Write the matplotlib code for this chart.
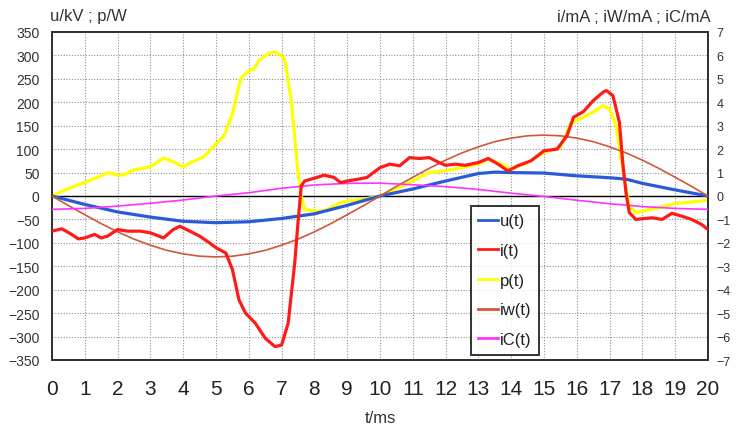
import matplotlib
matplotlib.use("Agg")
import matplotlib.pyplot as plt
from matplotlib.lines import Line2D

plt.rcParams['font.family'] = ['Liberation Sans Narrow', 'Liberation Sans', 'DejaVu Sans']

# ---------------- data ----------------
t_u = [0, 1, 2, 3, 4, 5, 6, 7, 8, 9, 10, 11, 12, 13, 13.5, 14, 15, 16, 17, 17.5, 18, 19, 20]
u = [0, -18, -34, -45, -54, -57, -55, -48, -38, -20, 0, 15, 32, 48, 51, 50, 49, 43, 39, 36, 27, 13, 0]

t_i = [0, 0.3, 0.6, 0.8, 1, 1.3, 1.5, 1.7, 2, 2.3, 2.7, 3, 3.4, 3.7, 3.9, 4.2, 4.5, 4.8, 5, 5.3,
       5.5, 5.7, 5.9, 6.2, 6.5, 6.8, 7.0, 7.2, 7.4, 7.5, 7.6, 7.7, 8, 8.3, 8.6, 8.8, 9, 9.3, 9.6,
       10, 10.3, 10.6, 10.9, 11.2, 11.5, 11.8, 12, 12.3, 12.6, 13, 13.3, 13.6, 13.9, 14.2, 14.6,
       15, 15.4, 15.7, 15.9, 16.2, 16.5, 16.8, 16.9, 17.1, 17.3, 17.4, 17.5, 17.6, 17.8, 18, 18.3,
       18.6, 18.9, 19.2, 19.5, 19.8, 20]
i_mA = [-1.5, -1.4, -1.64, -1.83, -1.79, -1.64, -1.79, -1.71, -1.43, -1.5, -1.5, -1.57, -1.79,
        -1.43, -1.29, -1.5, -1.71, -2.0, -2.21, -2.43, -3.14, -4.43, -5.0, -5.43, -6.07, -6.43,
        -6.36, -5.43, -2.86, -1.14, 0.43, 0.64, 0.76, 0.89, 0.79, 0.57, 0.64, 0.71, 0.79, 1.21,
        1.36, 1.29, 1.64, 1.6, 1.64, 1.43, 1.31, 1.36, 1.31, 1.43, 1.6, 1.36, 1.07, 1.29, 1.5,
        1.93, 2.0, 2.57, 3.36, 3.6, 4.07, 4.43, 4.5, 4.29, 3.14, 1.43, 0.14, -0.71, -1.0, -0.97,
        -0.93, -1.0, -0.74, -0.86, -1.0, -1.21, -1.43]

t_p = [0, 0.5, 1, 1.5, 1.7, 2, 2.2, 2.5, 3, 3.4, 3.7, 4, 4.3, 4.6, 5, 5.25, 5.5, 5.75, 6, 6.15,
       6.3, 6.6, 6.8, 7, 7.1, 7.3, 7.5, 7.6, 7.7, 8, 8.3, 8.6, 8.8, 9, 9.5, 10, 10.5, 11, 11.5,
       12, 12.5, 13, 13.3, 13.6, 14, 14.5, 15, 15.5, 15.8, 16, 16.5, 16.8, 17, 17.2, 17.4, 17.6,
       17.8, 18, 18.5, 19, 19.5, 20]
p = [0, 16, 29, 43, 50, 45, 45, 56, 62, 81, 73, 62, 74, 82, 111, 129, 175, 250, 268, 270, 289,
     304, 307, 300, 289, 200, 50, 0, -29, -32, -32, -21, -14, -11, -7, 0, 16, 32, 50, 54, 61, 68,
     79, 71, 57, 71, 93, 104, 154, 161, 179, 193, 186, 150, 57, -21, -36, -32, -25, -16, -13, -9]

t_w = [0, 0.5, 1, 1.5, 2, 2.5, 3, 3.5, 4, 4.5, 5, 5.5, 6, 6.5, 7, 7.5, 8, 8.5, 9, 9.5, 10,
       10.5, 11, 11.5, 12, 12.5, 13, 13.5, 14, 14.5, 15, 15.5, 16, 16.5, 17, 17.5, 18, 18.5, 19,
       19.5, 20]
iw = [0, -0.41, -0.80, -1.18, -1.53, -1.84, -2.10, -2.32, -2.47, -2.57, -2.60, -2.57, -2.47,
      -2.32, -2.10, -1.84, -1.53, -1.18, -0.80, -0.41, 0, 0.41, 0.80, 1.18, 1.53, 1.84, 2.10,
      2.32, 2.47, 2.57, 2.60, 2.57, 2.47, 2.32, 2.10, 1.84, 1.53, 1.18, 0.80, 0.41, 0]

t_c = [0, 1, 2, 3, 4, 5, 6, 7, 8, 9, 10, 11, 12, 13, 14, 15, 16, 17, 18, 19, 20]
ic = [-0.57, -0.53, -0.43, -0.31, -0.17, 0, 0.14, 0.33, 0.47, 0.54, 0.55, 0.48, 0.40, 0.28,
      0.12, -0.02, -0.18, -0.33, -0.45, -0.53, -0.57]

x_ticks = list(range(0, 21))
left_ticks = list(range(-350, 351, 50))
right_ticks = list(range(-7, 8))

labels = ['u(t)', 'i(t)', 'p(t)', 'iw(t)', 'iC(t)']
colors = ['#2a5bd7', '#ff1a1a', '#ffff00', '#d0573a', '#ff33ff']

# ---------------- figure ----------------
fig = plt.figure(figsize=(7.36, 4.31), dpi=100)
ax = fig.add_axes([52 / 736, 1 - 361 / 431, 656 / 736, 328 / 431])
ax2 = ax.twinx()

ax.set_xlim(0, 20)
ax.set_ylim(-350, 350)
ax2.set_ylim(-7, 7)

ax.set_xticks(x_ticks)
ax.set_yticks(left_ticks)
ax2.set_yticks(right_ticks)

grid_kw = dict(color='#909090', linestyle=(0, (1, 1.5)), linewidth=0.8)
ax.grid(True, **grid_kw)
ax.set_axisbelow(True)
ax.axhline(0, color='black', linewidth=1.0, zorder=1.5)

ax.tick_params(axis='x', length=0, pad=14, labelsize=15, colors='#222222')
ax.tick_params(axis='y', length=0, pad=9, labelsize=10, colors='#333333')
ax2.tick_params(axis='y', length=0, pad=6, labelsize=9, colors='#333333')

for a in (ax, ax2):
    for s in a.spines.values():
        s.set_color('#333333')
        s.set_linewidth(1.4)

# left-axis series
ax.plot(t_p, p, color=colors[2], linewidth=2.3, zorder=3)
ax.plot(t_u, u, color=colors[0], linewidth=2.3, zorder=4)
# right-axis series
ax2.plot(t_w, iw, color=colors[3], linewidth=1.2, zorder=3)
ax2.plot(t_c, ic, color=colors[4], linewidth=1.2, zorder=3)
ax2.plot(t_i, i_mA, color=colors[1], linewidth=2.3, zorder=4)

handles = [Line2D([0], [0], color=c, linewidth=2.0) for c in colors]
leg = ax2.legend(handles, labels, loc='upper left', bbox_to_anchor=(0.638, 0.470),
                 fontsize=12, frameon=True, fancybox=False, edgecolor='black',
                 handlelength=1.2, handletextpad=0.1, labelspacing=0.88,
                 borderpad=0.45, borderaxespad=0)
leg.get_frame().set_linewidth(1.4)
for txt in leg.get_texts():
    txt.set_color('#222222')

fig.text(50 / 736, 1 - 17 / 431, 'u/kV ; p/W', fontsize=12, color='#333333',
         ha='left', va='center')
fig.text(711 / 736, 1 - 17 / 431, 'i/mA ; iW/mA ; iC/mA', fontsize=12, color='#333333',
         ha='right', va='center')
ax.set_xlabel('t/ms', fontsize=12, color='#333333', labelpad=8)

fig.savefig('out.png', dpi=100)
